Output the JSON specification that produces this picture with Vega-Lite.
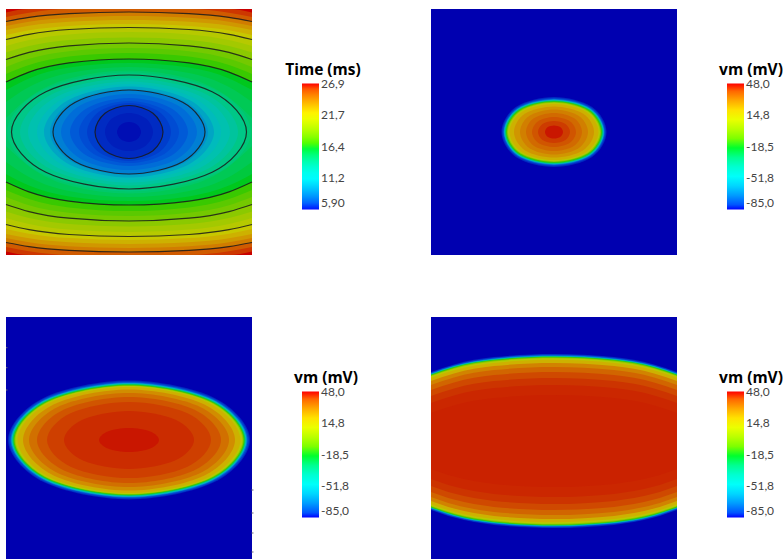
{"$schema":"https://vega.github.io/schema/vega-lite/v6.json","width":783,"height":559,"padding":0,"autosize":{"type":"none"},"config":{"view":{"stroke":null}},
"resolve":{"scale":{"x":"independent","y":"independent","fill":"independent","stroke":"independent"},"legend":{"fill":"independent","stroke":"independent"}},
"datasets":{
"timeOpen":[
{"v":26.2,"x":0,"y":3.5,"y2":242.5},{"v":26.2,"x":23,"y":-1,"y2":247},{"v":26.2,"x":63,"y":-5.2,"y2":251.2},{"v":26.2,"x":123,"y":-7,"y2":253},{"v":26.2,"x":183,"y":-5.2,"y2":251.2},{"v":26.2,"x":223,"y":-1,"y2":247},{"v":26.2,"x":246,"y":3.5,"y2":242.5},
{"v":25.3,"x":0,"y":8,"y2":238},{"v":25.3,"x":23,"y":3.7,"y2":242.3},{"v":25.3,"x":63,"y":-0.3,"y2":246.3},{"v":25.3,"x":123,"y":-2,"y2":248},{"v":25.3,"x":183,"y":-0.3,"y2":246.3},{"v":25.3,"x":223,"y":3.7,"y2":242.3},{"v":25.3,"x":246,"y":8,"y2":238},
{"v":24.3,"x":0,"y":12.5,"y2":233.5},{"v":24.3,"x":23,"y":8.4,"y2":237.6},{"v":24.3,"x":63,"y":4.6,"y2":241.4},{"v":24.3,"x":123,"y":3,"y2":243},{"v":24.3,"x":183,"y":4.6,"y2":241.4},{"v":24.3,"x":223,"y":8.4,"y2":237.6},{"v":24.3,"x":246,"y":12.5,"y2":233.5},
{"v":23.4,"x":0,"y":17,"y2":229},{"v":23.4,"x":23,"y":12.7,"y2":233.3},{"v":23.4,"x":63,"y":8.7,"y2":237.3},{"v":23.4,"x":123,"y":7,"y2":239},{"v":23.4,"x":183,"y":8.7,"y2":237.3},{"v":23.4,"x":223,"y":12.7,"y2":233.3},{"v":23.4,"x":246,"y":17,"y2":229},
{"v":22.5,"x":0,"y":21,"y2":225},{"v":22.5,"x":23,"y":16.7,"y2":229.3},{"v":22.5,"x":63,"y":12.7,"y2":233.3},{"v":22.5,"x":123,"y":11,"y2":235},{"v":22.5,"x":183,"y":12.7,"y2":233.3},{"v":22.5,"x":223,"y":16.7,"y2":229.3},{"v":22.5,"x":246,"y":21,"y2":225},
{"v":21.6,"x":0,"y":26,"y2":220},{"v":21.6,"x":23,"y":21.3,"y2":224.7},{"v":21.6,"x":63,"y":16.9,"y2":229.1},{"v":21.6,"x":123,"y":15,"y2":231},{"v":21.6,"x":183,"y":16.9,"y2":229.1},{"v":21.6,"x":223,"y":21.3,"y2":224.7},{"v":21.6,"x":246,"y":26,"y2":220},
{"v":20.8,"x":0,"y":30.5,"y2":215.5},{"v":20.8,"x":23,"y":25.3,"y2":220.7},{"v":20.8,"x":63,"y":20.5,"y2":225.5},{"v":20.8,"x":123,"y":18.5,"y2":227.5},{"v":20.8,"x":183,"y":20.5,"y2":225.5},{"v":20.8,"x":223,"y":25.3,"y2":220.7},{"v":20.8,"x":246,"y":30.5,"y2":215.5},
{"v":20,"x":0,"y":37,"y2":209},{"v":20,"x":23,"y":31,"y2":215},{"v":20,"x":63,"y":25.4,"y2":220.6},{"v":20,"x":123,"y":23,"y2":223},{"v":20,"x":183,"y":25.4,"y2":220.6},{"v":20,"x":223,"y":31,"y2":215},{"v":20,"x":246,"y":37,"y2":209},
{"v":19.1,"x":0,"y":43.5,"y2":202.5},{"v":19.1,"x":23,"y":37,"y2":209},{"v":19.1,"x":63,"y":31,"y2":215},{"v":19.1,"x":123,"y":28.5,"y2":217.5},{"v":19.1,"x":183,"y":31,"y2":215},{"v":19.1,"x":223,"y":37,"y2":209},{"v":19.1,"x":246,"y":43.5,"y2":202.5},
{"v":18.3,"x":0,"y":50.5,"y2":195.5},{"v":18.3,"x":23,"y":43.4,"y2":202.6},{"v":18.3,"x":63,"y":36.8,"y2":209.2},{"v":18.3,"x":123,"y":34,"y2":212},{"v":18.3,"x":183,"y":36.8,"y2":209.2},{"v":18.3,"x":223,"y":43.4,"y2":202.6},{"v":18.3,"x":246,"y":50.5,"y2":195.5},
{"v":17.6,"x":0,"y":58,"y2":188},{"v":17.6,"x":23,"y":49.8,"y2":196.2},{"v":17.6,"x":63,"y":42.2,"y2":203.8},{"v":17.6,"x":123,"y":39,"y2":207},{"v":17.6,"x":183,"y":42.2,"y2":203.8},{"v":17.6,"x":223,"y":49.8,"y2":196.2},{"v":17.6,"x":246,"y":58,"y2":188},
{"v":16.9,"x":0,"y":65,"y2":181},{"v":16.9,"x":23,"y":56,"y2":190},{"v":16.9,"x":63,"y":47.6,"y2":198.4},{"v":16.9,"x":123,"y":44,"y2":202},{"v":16.9,"x":183,"y":47.6,"y2":198.4},{"v":16.9,"x":223,"y":56,"y2":190},{"v":16.9,"x":246,"y":65,"y2":181},
{"v":16.2,"x":0,"y":73,"y2":173},{"v":16.2,"x":23,"y":63.1,"y2":182.9},{"v":16.2,"x":63,"y":53.9,"y2":192.1},{"v":16.2,"x":123,"y":50,"y2":196},{"v":16.2,"x":183,"y":53.9,"y2":192.1},{"v":16.2,"x":223,"y":63.1,"y2":182.9},{"v":16.2,"x":246,"y":73,"y2":173},
{"v":15.7,"x":0,"y":81,"y2":165},{"v":15.7,"x":23,"y":69.4,"y2":176.6},{"v":15.7,"x":63,"y":58.6,"y2":187.4},{"v":15.7,"x":123,"y":54,"y2":192},{"v":15.7,"x":183,"y":58.6,"y2":187.4},{"v":15.7,"x":223,"y":69.4,"y2":176.6},{"v":15.7,"x":246,"y":81,"y2":165},
{"v":15.2,"x":0,"y":93,"y2":153},{"v":15.2,"x":23,"y":78,"y2":168},{"v":15.2,"x":63,"y":64,"y2":182},{"v":15.2,"x":123,"y":58,"y2":188},{"v":15.2,"x":183,"y":64,"y2":182},{"v":15.2,"x":223,"y":78,"y2":168},{"v":15.2,"x":246,"y":93,"y2":153},
{"v":14.7,"x":0,"y":109,"y2":137},{"v":14.7,"x":23,"y":88.6,"y2":157.4},{"v":14.7,"x":63,"y":69.6,"y2":176.4},{"v":14.7,"x":123,"y":61.5,"y2":184.5},{"v":14.7,"x":183,"y":69.6,"y2":176.4},{"v":14.7,"x":223,"y":88.6,"y2":157.4},{"v":14.7,"x":246,"y":109,"y2":137}
],
"timeClosed":[
{"v":14.2,"x":123,"y":63.5},{"v":14.2,"x":209.3,"y":80.9},{"v":14.2,"x":245,"y":123},{"v":14.2,"x":209.3,"y":165.1},{"v":14.2,"x":123,"y":182.5},{"v":14.2,"x":36.7,"y":165.1},{"v":14.2,"x":1,"y":123},{"v":14.2,"x":36.7,"y":80.9},
{"v":13.8,"x":123,"y":66},{"v":13.8,"x":206.1,"y":82.7},{"v":13.8,"x":240.5,"y":123},{"v":13.8,"x":206.1,"y":163.3},{"v":13.8,"x":123,"y":180},{"v":13.8,"x":39.9,"y":163.3},{"v":13.8,"x":5.5,"y":123},{"v":13.8,"x":39.9,"y":82.7},
{"v":13,"x":123,"y":69.5},{"v":13,"x":200.1,"y":85.2},{"v":13,"x":232,"y":123},{"v":13,"x":200.1,"y":160.8},{"v":13,"x":123,"y":176.5},{"v":13,"x":45.9,"y":160.8},{"v":13,"x":14,"y":123},{"v":13,"x":45.9,"y":85.2},
{"v":12.1,"x":123,"y":72.5},{"v":12.1,"x":194.4,"y":87.3},{"v":12.1,"x":224,"y":123},{"v":12.1,"x":194.4,"y":158.7},{"v":12.1,"x":123,"y":173.5},{"v":12.1,"x":51.6,"y":158.7},{"v":12.1,"x":22,"y":123},{"v":12.1,"x":51.6,"y":87.3},
{"v":11.1,"x":123,"y":75},{"v":11.1,"x":188,"y":89.1},{"v":11.1,"x":215,"y":123},{"v":11.1,"x":188,"y":156.9},{"v":11.1,"x":123,"y":171},{"v":11.1,"x":58,"y":156.9},{"v":11.1,"x":31,"y":123},{"v":11.1,"x":58,"y":89.1},
{"v":10.2,"x":123,"y":77.5},{"v":10.2,"x":183.1,"y":90.8},{"v":10.2,"x":208,"y":123},{"v":10.2,"x":183.1,"y":155.2},{"v":10.2,"x":123,"y":168.5},{"v":10.2,"x":62.9,"y":155.2},{"v":10.2,"x":38,"y":123},{"v":10.2,"x":62.9,"y":90.8},
{"v":9.4,"x":123,"y":80},{"v":9.4,"x":178.9,"y":92.6},{"v":9.4,"x":202,"y":123},{"v":9.4,"x":178.9,"y":153.4},{"v":9.4,"x":123,"y":166},{"v":9.4,"x":67.1,"y":153.4},{"v":9.4,"x":44,"y":123},{"v":9.4,"x":67.1,"y":92.6},
{"v":8.8,"x":123,"y":81},{"v":8.8,"x":176.7,"y":93.3},{"v":8.8,"x":199,"y":123},{"v":8.8,"x":176.7,"y":152.7},{"v":8.8,"x":123,"y":165},{"v":8.8,"x":69.3,"y":152.7},{"v":8.8,"x":47,"y":123},{"v":8.8,"x":69.3,"y":93.3},
{"v":8.2,"x":123,"y":85},{"v":8.2,"x":171.1,"y":96.1},{"v":8.2,"x":191,"y":123},{"v":8.2,"x":171.1,"y":149.9},{"v":8.2,"x":123,"y":161},{"v":8.2,"x":74.9,"y":149.9},{"v":8.2,"x":55,"y":123},{"v":8.2,"x":74.9,"y":96.1},
{"v":7.6,"x":123,"y":89},{"v":7.6,"x":164.7,"y":99},{"v":7.6,"x":182,"y":123},{"v":7.6,"x":164.7,"y":147},{"v":7.6,"x":123,"y":157},{"v":7.6,"x":81.3,"y":147},{"v":7.6,"x":64,"y":123},{"v":7.6,"x":81.3,"y":99},
{"v":7.2,"x":123,"y":92},{"v":7.2,"x":158.4,"y":101.1},{"v":7.2,"x":173,"y":123},{"v":7.2,"x":158.4,"y":144.9},{"v":7.2,"x":123,"y":154},{"v":7.2,"x":87.6,"y":144.9},{"v":7.2,"x":73,"y":123},{"v":7.2,"x":87.6,"y":101.1},
{"v":6.8,"x":123,"y":94},{"v":6.8,"x":152.7,"y":102.5},{"v":6.8,"x":165,"y":123},{"v":6.8,"x":152.7,"y":143.5},{"v":6.8,"x":123,"y":152},{"v":6.8,"x":93.3,"y":143.5},{"v":6.8,"x":81,"y":123},{"v":6.8,"x":93.3,"y":102.5},
{"v":6.4,"x":123,"y":96.5},{"v":6.4,"x":147,"y":104.3},{"v":6.4,"x":157,"y":123},{"v":6.4,"x":147,"y":141.7},{"v":6.4,"x":123,"y":149.5},{"v":6.4,"x":99,"y":141.7},{"v":6.4,"x":89,"y":123},{"v":6.4,"x":99,"y":104.3},
{"v":6.2,"x":123,"y":104},{"v":6.2,"x":140,"y":109.6},{"v":6.2,"x":147,"y":123},{"v":6.2,"x":140,"y":136.4},{"v":6.2,"x":123,"y":142},{"v":6.2,"x":106,"y":136.4},{"v":6.2,"x":99,"y":123},{"v":6.2,"x":106,"y":109.6},
{"v":6,"x":123,"y":113},{"v":6,"x":131.5,"y":115.9},{"v":6,"x":135,"y":123},{"v":6,"x":131.5,"y":130.1},{"v":6,"x":123,"y":133},{"v":6,"x":114.5,"y":130.1},{"v":6,"x":111,"y":123},{"v":6,"x":114.5,"y":115.9}
],
"vm2":[
{"v":-82,"x":123,"y":88},{"v":-82,"x":160.8,"y":97.8},{"v":-82,"x":175.5,"y":123},{"v":-82,"x":160.8,"y":148.2},{"v":-82,"x":123,"y":158},{"v":-82,"x":85.2,"y":148.2},{"v":-82,"x":70.5,"y":123},{"v":-82,"x":85.2,"y":97.8},
{"v":-78,"x":123,"y":89},{"v":-78,"x":160.1,"y":98.5},{"v":-78,"x":174.5,"y":123},{"v":-78,"x":160.1,"y":147.5},{"v":-78,"x":123,"y":157},{"v":-78,"x":85.9,"y":147.5},{"v":-78,"x":71.5,"y":123},{"v":-78,"x":85.9,"y":98.5},
{"v":-68,"x":123,"y":90},{"v":-68,"x":159.4,"y":99.2},{"v":-68,"x":173.5,"y":123},{"v":-68,"x":159.4,"y":146.8},{"v":-68,"x":123,"y":156},{"v":-68,"x":86.6,"y":146.8},{"v":-68,"x":72.5,"y":123},{"v":-68,"x":86.6,"y":99.2},
{"v":-52,"x":123,"y":90.7},{"v":-52,"x":158.9,"y":99.7},{"v":-52,"x":172.8,"y":123},{"v":-52,"x":158.9,"y":146.3},{"v":-52,"x":123,"y":155.3},{"v":-52,"x":87.1,"y":146.3},{"v":-52,"x":73.2,"y":123},{"v":-52,"x":87.1,"y":99.7},
{"v":-30,"x":123,"y":91.4},{"v":-30,"x":158.3,"y":100.2},{"v":-30,"x":172,"y":123},{"v":-30,"x":158.3,"y":145.8},{"v":-30,"x":123,"y":154.6},{"v":-30,"x":87.7,"y":145.8},{"v":-30,"x":74,"y":123},{"v":-30,"x":87.7,"y":100.2},
{"v":-15,"x":123,"y":92.2},{"v":-15,"x":157.6,"y":100.8},{"v":-15,"x":171,"y":123},{"v":-15,"x":157.6,"y":145.2},{"v":-15,"x":123,"y":153.8},{"v":-15,"x":88.4,"y":145.2},{"v":-15,"x":75,"y":123},{"v":-15,"x":88.4,"y":100.8},
{"v":-2,"x":123,"y":93},{"v":-2,"x":156.8,"y":101.4},{"v":-2,"x":170,"y":123},{"v":-2,"x":156.8,"y":144.6},{"v":-2,"x":123,"y":153},{"v":-2,"x":89.2,"y":144.6},{"v":-2,"x":76,"y":123},{"v":-2,"x":89.2,"y":101.4},
{"v":10,"x":123,"y":93.8},{"v":10,"x":156.1,"y":102},{"v":10,"x":169,"y":123},{"v":10,"x":156.1,"y":144},{"v":10,"x":123,"y":152.2},{"v":10,"x":89.9,"y":144},{"v":10,"x":77,"y":123},{"v":10,"x":89.9,"y":102},
{"v":20,"x":123,"y":95},{"v":20,"x":155,"y":102.8},{"v":20,"x":167.5,"y":123},{"v":20,"x":155,"y":143.2},{"v":20,"x":123,"y":151},{"v":20,"x":91,"y":143.2},{"v":20,"x":78.5,"y":123},{"v":20,"x":91,"y":102.8},
{"v":26,"x":123,"y":97.5},{"v":26,"x":151.8,"y":104.6},{"v":26,"x":163,"y":123},{"v":26,"x":151.8,"y":141.4},{"v":26,"x":123,"y":148.5},{"v":26,"x":94.2,"y":141.4},{"v":26,"x":83,"y":123},{"v":26,"x":94.2,"y":104.6},
{"v":31,"x":123,"y":100.5},{"v":31,"x":147.5,"y":106.8},{"v":31,"x":157,"y":123},{"v":31,"x":147.5,"y":139.2},{"v":31,"x":123,"y":145.5},{"v":31,"x":98.5,"y":139.2},{"v":31,"x":89,"y":123},{"v":31,"x":98.5,"y":106.8},
{"v":35,"x":123,"y":104},{"v":35,"x":143.2,"y":109.3},{"v":35,"x":151,"y":123},{"v":35,"x":143.2,"y":136.7},{"v":35,"x":123,"y":142},{"v":35,"x":102.8,"y":136.7},{"v":35,"x":95,"y":123},{"v":35,"x":102.8,"y":109.3},
{"v":39,"x":123,"y":108},{"v":39,"x":138.8,"y":112.2},{"v":39,"x":145,"y":123},{"v":39,"x":138.8,"y":133.8},{"v":39,"x":123,"y":138},{"v":39,"x":107.2,"y":133.8},{"v":39,"x":101,"y":123},{"v":39,"x":107.2,"y":112.2},
{"v":43,"x":123,"y":112},{"v":43,"x":134.5,"y":115.1},{"v":43,"x":139,"y":123},{"v":43,"x":134.5,"y":130.9},{"v":43,"x":123,"y":134},{"v":43,"x":111.5,"y":130.9},{"v":43,"x":107,"y":123},{"v":43,"x":111.5,"y":115.1},
{"v":47,"x":123,"y":116.5},{"v":47,"x":129.5,"y":118.3},{"v":47,"x":132,"y":123},{"v":47,"x":129.5,"y":127.7},{"v":47,"x":123,"y":129.5},{"v":47,"x":116.5,"y":127.7},{"v":47,"x":114,"y":123},{"v":47,"x":116.5,"y":118.3}
],
"vm3":[
{"v":-82,"x":123,"y":63.5},{"v":-82,"x":208.5,"y":80.9},{"v":-82,"x":244,"y":123},{"v":-82,"x":208.5,"y":165.1},{"v":-82,"x":123,"y":182.5},{"v":-82,"x":37.5,"y":165.1},{"v":-82,"x":2,"y":123},{"v":-82,"x":37.5,"y":80.9},
{"v":-78,"x":123,"y":64.5},{"v":-78,"x":207.8,"y":81.6},{"v":-78,"x":243,"y":123},{"v":-78,"x":207.8,"y":164.4},{"v":-78,"x":123,"y":181.5},{"v":-78,"x":38.2,"y":164.4},{"v":-78,"x":3,"y":123},{"v":-78,"x":38.2,"y":81.6},
{"v":-68,"x":123,"y":65.5},{"v":-68,"x":206.8,"y":82.3},{"v":-68,"x":241.5,"y":123},{"v":-68,"x":206.8,"y":163.7},{"v":-68,"x":123,"y":180.5},{"v":-68,"x":39.2,"y":163.7},{"v":-68,"x":4.5,"y":123},{"v":-68,"x":39.2,"y":82.3},
{"v":-52,"x":123,"y":66.2},{"v":-52,"x":206.1,"y":82.8},{"v":-52,"x":240.5,"y":123},{"v":-52,"x":206.1,"y":163.2},{"v":-52,"x":123,"y":179.8},{"v":-52,"x":39.9,"y":163.2},{"v":-52,"x":5.5,"y":123},{"v":-52,"x":39.9,"y":82.8},
{"v":-30,"x":123,"y":67},{"v":-30,"x":205.4,"y":83.4},{"v":-30,"x":239.5,"y":123},{"v":-30,"x":205.4,"y":162.6},{"v":-30,"x":123,"y":179},{"v":-30,"x":40.6,"y":162.6},{"v":-30,"x":6.5,"y":123},{"v":-30,"x":40.6,"y":83.4},
{"v":-15,"x":123,"y":67.7},{"v":-15,"x":204.7,"y":83.9},{"v":-15,"x":238.5,"y":123},{"v":-15,"x":204.7,"y":162.1},{"v":-15,"x":123,"y":178.3},{"v":-15,"x":41.3,"y":162.1},{"v":-15,"x":7.5,"y":123},{"v":-15,"x":41.3,"y":83.9},
{"v":-2,"x":123,"y":68.4},{"v":-2,"x":204,"y":84.4},{"v":-2,"x":237.5,"y":123},{"v":-2,"x":204,"y":161.6},{"v":-2,"x":123,"y":177.6},{"v":-2,"x":42,"y":161.6},{"v":-2,"x":8.5,"y":123},{"v":-2,"x":42,"y":84.4},
{"v":10,"x":123,"y":69},{"v":10,"x":203.2,"y":84.8},{"v":10,"x":236.5,"y":123},{"v":10,"x":203.2,"y":161.2},{"v":10,"x":123,"y":177},{"v":10,"x":42.8,"y":161.2},{"v":10,"x":9.5,"y":123},{"v":10,"x":42.8,"y":84.8},
{"v":20,"x":123,"y":70},{"v":20,"x":201.8,"y":85.5},{"v":20,"x":234.5,"y":123},{"v":20,"x":201.8,"y":160.5},{"v":20,"x":123,"y":176},{"v":20,"x":44.2,"y":160.5},{"v":20,"x":11.5,"y":123},{"v":20,"x":44.2,"y":85.5},
{"v":28,"x":123,"y":72.5},{"v":28,"x":197.9,"y":87.3},{"v":28,"x":229,"y":123},{"v":28,"x":197.9,"y":158.7},{"v":28,"x":123,"y":173.5},{"v":28,"x":48.1,"y":158.7},{"v":28,"x":17,"y":123},{"v":28,"x":48.1,"y":87.3},
{"v":34,"x":123,"y":76},{"v":34,"x":193.7,"y":89.8},{"v":34,"x":223,"y":123},{"v":34,"x":193.7,"y":156.2},{"v":34,"x":123,"y":170},{"v":34,"x":52.3,"y":156.2},{"v":34,"x":23,"y":123},{"v":34,"x":52.3,"y":89.8},
{"v":39,"x":123,"y":80},{"v":39,"x":188,"y":92.6},{"v":39,"x":215,"y":123},{"v":39,"x":188,"y":153.4},{"v":39,"x":123,"y":166},{"v":39,"x":58,"y":153.4},{"v":39,"x":31,"y":123},{"v":39,"x":58,"y":92.6},
{"v":42.5,"x":123,"y":85},{"v":42.5,"x":181,"y":96.1},{"v":42.5,"x":205,"y":123},{"v":42.5,"x":181,"y":149.9},{"v":42.5,"x":123,"y":161},{"v":42.5,"x":65,"y":149.9},{"v":42.5,"x":41,"y":123},{"v":42.5,"x":65,"y":96.1},
{"v":45,"x":123,"y":94},{"v":45,"x":169,"y":102.5},{"v":45,"x":188,"y":123},{"v":45,"x":169,"y":143.5},{"v":45,"x":123,"y":152},{"v":45,"x":77,"y":143.5},{"v":45,"x":58,"y":123},{"v":45,"x":77,"y":102.5},
{"v":47,"x":123,"y":111},{"v":47,"x":144.2,"y":114.5},{"v":47,"x":153,"y":123},{"v":47,"x":144.2,"y":131.5},{"v":47,"x":123,"y":135},{"v":47,"x":101.8,"y":131.5},{"v":47,"x":93,"y":123},{"v":47,"x":101.8,"y":114.5}
],
"vm4":[
{"v":-82,"x":0,"y":55,"y2":193},{"v":-82,"x":23,"y":47.4,"y2":200.6},{"v":-82,"x":63,"y":40.1,"y2":207.9},{"v":-82,"x":123,"y":37,"y2":211},{"v":-82,"x":183,"y":40.1,"y2":207.9},{"v":-82,"x":223,"y":47.4,"y2":200.6},{"v":-82,"x":246,"y":55,"y2":193},
{"v":-78,"x":0,"y":55.6,"y2":192.4},{"v":-78,"x":23,"y":48,"y2":200},{"v":-78,"x":63,"y":40.7,"y2":207.3},{"v":-78,"x":123,"y":37.6,"y2":210.4},{"v":-78,"x":183,"y":40.7,"y2":207.3},{"v":-78,"x":223,"y":48,"y2":200},{"v":-78,"x":246,"y":55.6,"y2":192.4},
{"v":-68,"x":0,"y":56.3,"y2":191.7},{"v":-68,"x":23,"y":48.7,"y2":199.3},{"v":-68,"x":63,"y":41.4,"y2":206.6},{"v":-68,"x":123,"y":38.3,"y2":209.7},{"v":-68,"x":183,"y":41.4,"y2":206.6},{"v":-68,"x":223,"y":48.7,"y2":199.3},{"v":-68,"x":246,"y":56.3,"y2":191.7},
{"v":-52,"x":0,"y":56.9,"y2":191.1},{"v":-52,"x":23,"y":49.3,"y2":198.7},{"v":-52,"x":63,"y":42,"y2":206},{"v":-52,"x":123,"y":38.9,"y2":209.1},{"v":-52,"x":183,"y":42,"y2":206},{"v":-52,"x":223,"y":49.3,"y2":198.7},{"v":-52,"x":246,"y":56.9,"y2":191.1},
{"v":-30,"x":0,"y":57.4,"y2":190.6},{"v":-30,"x":23,"y":49.8,"y2":198.2},{"v":-30,"x":63,"y":42.5,"y2":205.5},{"v":-30,"x":123,"y":39.4,"y2":208.6},{"v":-30,"x":183,"y":42.5,"y2":205.5},{"v":-30,"x":223,"y":49.8,"y2":198.2},{"v":-30,"x":246,"y":57.4,"y2":190.6},
{"v":-15,"x":0,"y":57.8,"y2":190.2},{"v":-15,"x":23,"y":50.2,"y2":197.8},{"v":-15,"x":63,"y":42.9,"y2":205.1},{"v":-15,"x":123,"y":39.8,"y2":208.2},{"v":-15,"x":183,"y":42.9,"y2":205.1},{"v":-15,"x":223,"y":50.2,"y2":197.8},{"v":-15,"x":246,"y":57.8,"y2":190.2},
{"v":-2,"x":0,"y":58.5,"y2":189.5},{"v":-2,"x":23,"y":50.9,"y2":197.1},{"v":-2,"x":63,"y":43.6,"y2":204.4},{"v":-2,"x":123,"y":40.5,"y2":207.5},{"v":-2,"x":183,"y":43.6,"y2":204.4},{"v":-2,"x":223,"y":50.9,"y2":197.1},{"v":-2,"x":246,"y":58.5,"y2":189.5},
{"v":10,"x":0,"y":59.3,"y2":188.7},{"v":10,"x":23,"y":51.7,"y2":196.3},{"v":10,"x":63,"y":44.4,"y2":203.6},{"v":10,"x":123,"y":41.3,"y2":206.7},{"v":10,"x":183,"y":44.4,"y2":203.6},{"v":10,"x":223,"y":51.7,"y2":196.3},{"v":10,"x":246,"y":59.3,"y2":188.7},
{"v":20,"x":0,"y":60.8,"y2":187.2},{"v":20,"x":23,"y":53.2,"y2":194.8},{"v":20,"x":63,"y":45.9,"y2":202.1},{"v":20,"x":123,"y":42.8,"y2":205.2},{"v":20,"x":183,"y":45.9,"y2":202.1},{"v":20,"x":223,"y":53.2,"y2":194.8},{"v":20,"x":246,"y":60.8,"y2":187.2},
{"v":30,"x":0,"y":64,"y2":184},{"v":30,"x":23,"y":56.4,"y2":191.6},{"v":30,"x":63,"y":49.1,"y2":198.9},{"v":30,"x":123,"y":46,"y2":202},{"v":30,"x":183,"y":49.1,"y2":198.9},{"v":30,"x":223,"y":56.4,"y2":191.6},{"v":30,"x":246,"y":64,"y2":184},
{"v":36,"x":0,"y":68,"y2":180},{"v":36,"x":23,"y":60.4,"y2":187.6},{"v":36,"x":63,"y":53.1,"y2":194.9},{"v":36,"x":123,"y":50,"y2":198},{"v":36,"x":183,"y":53.1,"y2":194.9},{"v":36,"x":223,"y":60.4,"y2":187.6},{"v":36,"x":246,"y":68,"y2":180},
{"v":41,"x":0,"y":73,"y2":175},{"v":41,"x":23,"y":65.4,"y2":182.6},{"v":41,"x":63,"y":58.1,"y2":189.9},{"v":41,"x":123,"y":55,"y2":193},{"v":41,"x":183,"y":58.1,"y2":189.9},{"v":41,"x":223,"y":65.4,"y2":182.6},{"v":41,"x":246,"y":73,"y2":175},
{"v":44,"x":0,"y":79,"y2":169},{"v":44,"x":23,"y":71.4,"y2":176.6},{"v":44,"x":63,"y":64.1,"y2":183.9},{"v":44,"x":123,"y":61,"y2":187},{"v":44,"x":183,"y":64.1,"y2":183.9},{"v":44,"x":223,"y":71.4,"y2":176.6},{"v":44,"x":246,"y":79,"y2":169},
{"v":45.5,"x":0,"y":86,"y2":162},{"v":45.5,"x":23,"y":78.4,"y2":169.6},{"v":45.5,"x":63,"y":71.1,"y2":176.9},{"v":45.5,"x":123,"y":68,"y2":180},{"v":45.5,"x":183,"y":71.1,"y2":176.9},{"v":45.5,"x":223,"y":78.4,"y2":169.6},{"v":45.5,"x":246,"y":86,"y2":162},
{"v":46,"x":0,"y":96,"y2":152},{"v":46,"x":23,"y":88.4,"y2":159.6},{"v":46,"x":63,"y":81.1,"y2":166.9},{"v":46,"x":123,"y":78,"y2":170},{"v":46,"x":183,"y":81.1,"y2":166.9},{"v":46,"x":223,"y":88.4,"y2":159.6},{"v":46,"x":246,"y":96,"y2":152}
]},
"layer":[
{"data":{"values":[{"v":26.9,"x":0,"x2":246,"y":0,"y2":246}]},"mark":{"type":"rect","strokeWidth":0},"encoding":{"x":{"field":"x","type":"quantitative","scale":{"domain":[0,246],"range":[6,252]},"axis":null},"x2":{"field":"x2"},"y":{"field":"y","type":"quantitative","scale":{"domain":[0,246],"range":[9,255]},"axis":null},"y2":{"field":"y2"},"fill":{"field":"v","type":"quantitative","legend":null,"scale":{"domain":[5.9,26.9],"range":["#0000b0","#00bcbc","#00c800","#c8c800","#c80000"]}},"stroke":{"field":"v","type":"quantitative","scale":{"domain":[5.9,26.9001],"range":["#0000ff","#00ffff","#00ff00","#ffff00","#ff0000"]},"legend":{"orient":"none","legendX":285,"legendY":63,"title":"Time (ms)","gradientLength":126,"gradientThickness":17,"direction":"vertical","values":[5.9,11.16,16.4,21.66,26.9],"labelExpr":"replace(format(datum.value,'.3r'),'.',',')","titleFont":"Open Sans","titleFontSize":15.5,"titleFontWeight":"bold","titleColor":"#000","titleAnchor":"middle","titleAlign":"center","labelColor":"#444","labelFont":"Lato","labelFontSize":12,"labelOffset":2,"labelBaseline":"middle","gradientStrokeWidth":0}}}},
{"data":{"name":"timeOpen"},"mark":{"type":"area","orient":"vertical","interpolate":"monotone","strokeWidth":0},"encoding":{"x":{"field":"x","type":"quantitative","scale":{"domain":[0,246],"range":[6,252]},"axis":null},"y":{"field":"y","type":"quantitative","scale":{"domain":[0,246],"range":[9,255],"clamp":true},"axis":null},"y2":{"field":"y2"},"fill":{"field":"v","type":"quantitative","legend":null,"scale":{"domain":[5.9,26.9],"range":["#0000b0","#00bcbc","#00c800","#c8c800","#c80000"]}}}},
{"data":{"name":"timeClosed"},"mark":{"type":"line","interpolate":"cardinal-closed","strokeWidth":0},"encoding":{"x":{"field":"x","type":"quantitative","scale":{"domain":[0,246],"range":[6,252]},"axis":null},"y":{"field":"y","type":"quantitative","scale":{"domain":[0,246],"range":[9,255]},"axis":null},"fill":{"field":"v","type":"quantitative","legend":null,"scale":{"domain":[5.9,26.9],"range":["#0000b0","#00bcbc","#00c800","#c8c800","#c80000"]}},"order":{"value":null}}},
{"data":{"name":"timeClosed"},"transform":[{"filter":{"field":"v","oneOf":[13.8,8.8,6.4]}}],"mark":{"type":"line","interpolate":"cardinal-closed","stroke":"#1a1a1a","strokeWidth":1.2,"opacity":0.85},"encoding":{"x":{"field":"x","type":"quantitative","scale":{"domain":[0,246],"range":[6,252]},"axis":null},"y":{"field":"y","type":"quantitative","scale":{"domain":[0,246],"range":[9,255]},"axis":null},"detail":{"field":"v"},"order":{"value":null}}},
{"data":{"name":"timeOpen"},"transform":[{"filter":{"field":"v","oneOf":[24.3,20.8,18.3,16.2]}}],"mark":{"type":"line","interpolate":"monotone","stroke":"#1a1a1a","strokeWidth":1.2,"opacity":0.85},"encoding":{"x":{"field":"x","type":"quantitative","scale":{"domain":[0,246],"range":[6,252]},"axis":null},"y":{"field":"y","type":"quantitative","scale":{"domain":[0,246],"range":[9,255]},"axis":null},"detail":{"field":"v"}}},
{"data":{"name":"timeOpen"},"transform":[{"filter":{"field":"v","oneOf":[24.3,20.8,18.3,16.2]}}],"mark":{"type":"line","interpolate":"monotone","stroke":"#1a1a1a","strokeWidth":1.2,"opacity":0.85},"encoding":{"x":{"field":"x","type":"quantitative","scale":{"domain":[0,246],"range":[6,252]},"axis":null},"y":{"field":"y2","type":"quantitative","scale":{"domain":[0,246],"range":[9,255]},"axis":null},"detail":{"field":"v"}}},
{"data":{"values":[{"v":-85,"x":0,"x2":246,"y":0,"y2":246}]},"mark":{"type":"rect","strokeWidth":0},"encoding":{"x":{"field":"x","type":"quantitative","scale":{"domain":[0,246],"range":[431,677]},"axis":null},"x2":{"field":"x2"},"y":{"field":"y","type":"quantitative","scale":{"domain":[0,246],"range":[9,255]},"axis":null},"y2":{"field":"y2"},"fill":{"field":"v","type":"quantitative","legend":null,"scale":{"domain":[-85,48],"range":["#0000b0","#00bcbc","#00c800","#c8c800","#c80000"]}},"stroke":{"field":"v","type":"quantitative","scale":{"domain":[-85,48.001],"range":["#0000ff","#00ffff","#00ff00","#ffff00","#ff0000"]},"legend":{"orient":"none","legendX":719,"legendY":63,"title":"vm (mV)","gradientLength":126,"gradientThickness":17,"direction":"vertical","values":[-85,-51.76,-18.5,14.76,48],"labelExpr":"replace(replace(format(datum.value,'.1f'),'.',','),'−','-')","titleFont":"Open Sans","titleFontSize":15.5,"titleFontWeight":"bold","titleColor":"#000","titleAnchor":"middle","titleAlign":"center","labelColor":"#444","labelFont":"Lato","labelFontSize":12,"labelOffset":2,"labelBaseline":"middle","gradientStrokeWidth":0}}}},
{"data":{"name":"vm2"},"mark":{"type":"line","interpolate":"cardinal-closed","strokeWidth":0},"encoding":{"x":{"field":"x","type":"quantitative","scale":{"domain":[0,246],"range":[431,677]},"axis":null},"y":{"field":"y","type":"quantitative","scale":{"domain":[0,246],"range":[9,255]},"axis":null},"fill":{"field":"v","type":"quantitative","legend":null,"scale":{"domain":[-85,48],"range":["#0000b0","#00bcbc","#00c800","#c8c800","#c80000"]}},"order":{"value":null}}},
{"data":{"values":[{"v":-85,"x":0,"x2":246,"y":0,"y2":246}]},"mark":{"type":"rect","strokeWidth":0},"encoding":{"x":{"field":"x","type":"quantitative","scale":{"domain":[0,246],"range":[6,252]},"axis":null},"x2":{"field":"x2"},"y":{"field":"y","type":"quantitative","scale":{"domain":[0,246],"range":[317,563]},"axis":null},"y2":{"field":"y2"},"fill":{"field":"v","type":"quantitative","legend":null,"scale":{"domain":[-85,48],"range":["#0000b0","#00bcbc","#00c800","#c8c800","#c80000"]}},"stroke":{"field":"v","type":"quantitative","scale":{"domain":[-85,48.001],"range":["#0000ff","#00ffff","#00ff00","#ffff00","#ff0000"]},"legend":{"orient":"none","legendX":294,"legendY":371,"title":"vm (mV)","gradientLength":126,"gradientThickness":17,"direction":"vertical","values":[-85,-51.76,-18.5,14.76,48],"labelExpr":"replace(replace(format(datum.value,'.1f'),'.',','),'−','-')","titleFont":"Open Sans","titleFontSize":15.5,"titleFontWeight":"bold","titleColor":"#000","titleAnchor":"middle","titleAlign":"center","labelColor":"#444","labelFont":"Lato","labelFontSize":12,"labelOffset":2,"labelBaseline":"middle","gradientStrokeWidth":0}}}},
{"data":{"name":"vm3"},"mark":{"type":"line","interpolate":"cardinal-closed","strokeWidth":0},"encoding":{"x":{"field":"x","type":"quantitative","scale":{"domain":[0,246],"range":[6,252]},"axis":null},"y":{"field":"y","type":"quantitative","scale":{"domain":[0,246],"range":[317,563]},"axis":null},"fill":{"field":"v","type":"quantitative","legend":null,"scale":{"domain":[-85,48],"range":["#0000b0","#00bcbc","#00c800","#c8c800","#c80000"]}},"order":{"value":null}}},
{"data":{"values":[{"x":0,"x2":1.5,"y":30.7},{"x":0,"x2":1.5,"y":50.7},{"x":0,"x2":1.5,"y":73},{"x":245.5,"x2":247.5,"y":173},{"x":245.5,"x2":247.5,"y":196},{"x":245.5,"x2":247.5,"y":216},{"x":245.5,"x2":247.5,"y":235}]},"mark":{"type":"rule","stroke":"#667","strokeWidth":1},"encoding":{"x":{"field":"x","type":"quantitative","scale":{"domain":[0,246],"range":[6,252]},"axis":null},"x2":{"field":"x2"},"y":{"field":"y","type":"quantitative","scale":{"domain":[0,246],"range":[317,563]},"axis":null}}},
{"data":{"values":[{"v":-85,"x":0,"x2":246,"y":0,"y2":246}]},"mark":{"type":"rect","strokeWidth":0},"encoding":{"x":{"field":"x","type":"quantitative","scale":{"domain":[0,246],"range":[431,677]},"axis":null},"x2":{"field":"x2"},"y":{"field":"y","type":"quantitative","scale":{"domain":[0,246],"range":[317,563]},"axis":null},"y2":{"field":"y2"},"fill":{"field":"v","type":"quantitative","legend":null,"scale":{"domain":[-85,48],"range":["#0000b0","#00bcbc","#00c800","#c8c800","#c80000"]}},"stroke":{"field":"v","type":"quantitative","scale":{"domain":[-85,48.001],"range":["#0000ff","#00ffff","#00ff00","#ffff00","#ff0000"]},"legend":{"orient":"none","legendX":719,"legendY":371,"title":"vm (mV)","gradientLength":126,"gradientThickness":17,"direction":"vertical","values":[-85,-51.76,-18.5,14.76,48],"labelExpr":"replace(replace(format(datum.value,'.1f'),'.',','),'−','-')","titleFont":"Open Sans","titleFontSize":15.5,"titleFontWeight":"bold","titleColor":"#000","titleAnchor":"middle","titleAlign":"center","labelColor":"#444","labelFont":"Lato","labelFontSize":12,"labelOffset":2,"labelBaseline":"middle","gradientStrokeWidth":0}}}},
{"data":{"name":"vm4"},"mark":{"type":"area","orient":"vertical","interpolate":"monotone","strokeWidth":0},"encoding":{"x":{"field":"x","type":"quantitative","scale":{"domain":[0,246],"range":[431,677]},"axis":null},"y":{"field":"y","type":"quantitative","scale":{"domain":[0,246],"range":[317,563]},"axis":null},"y2":{"field":"y2"},"fill":{"field":"v","type":"quantitative","legend":null,"scale":{"domain":[-85,48],"range":["#0000b0","#00bcbc","#00c800","#c8c800","#c80000"]}}}}
]}
